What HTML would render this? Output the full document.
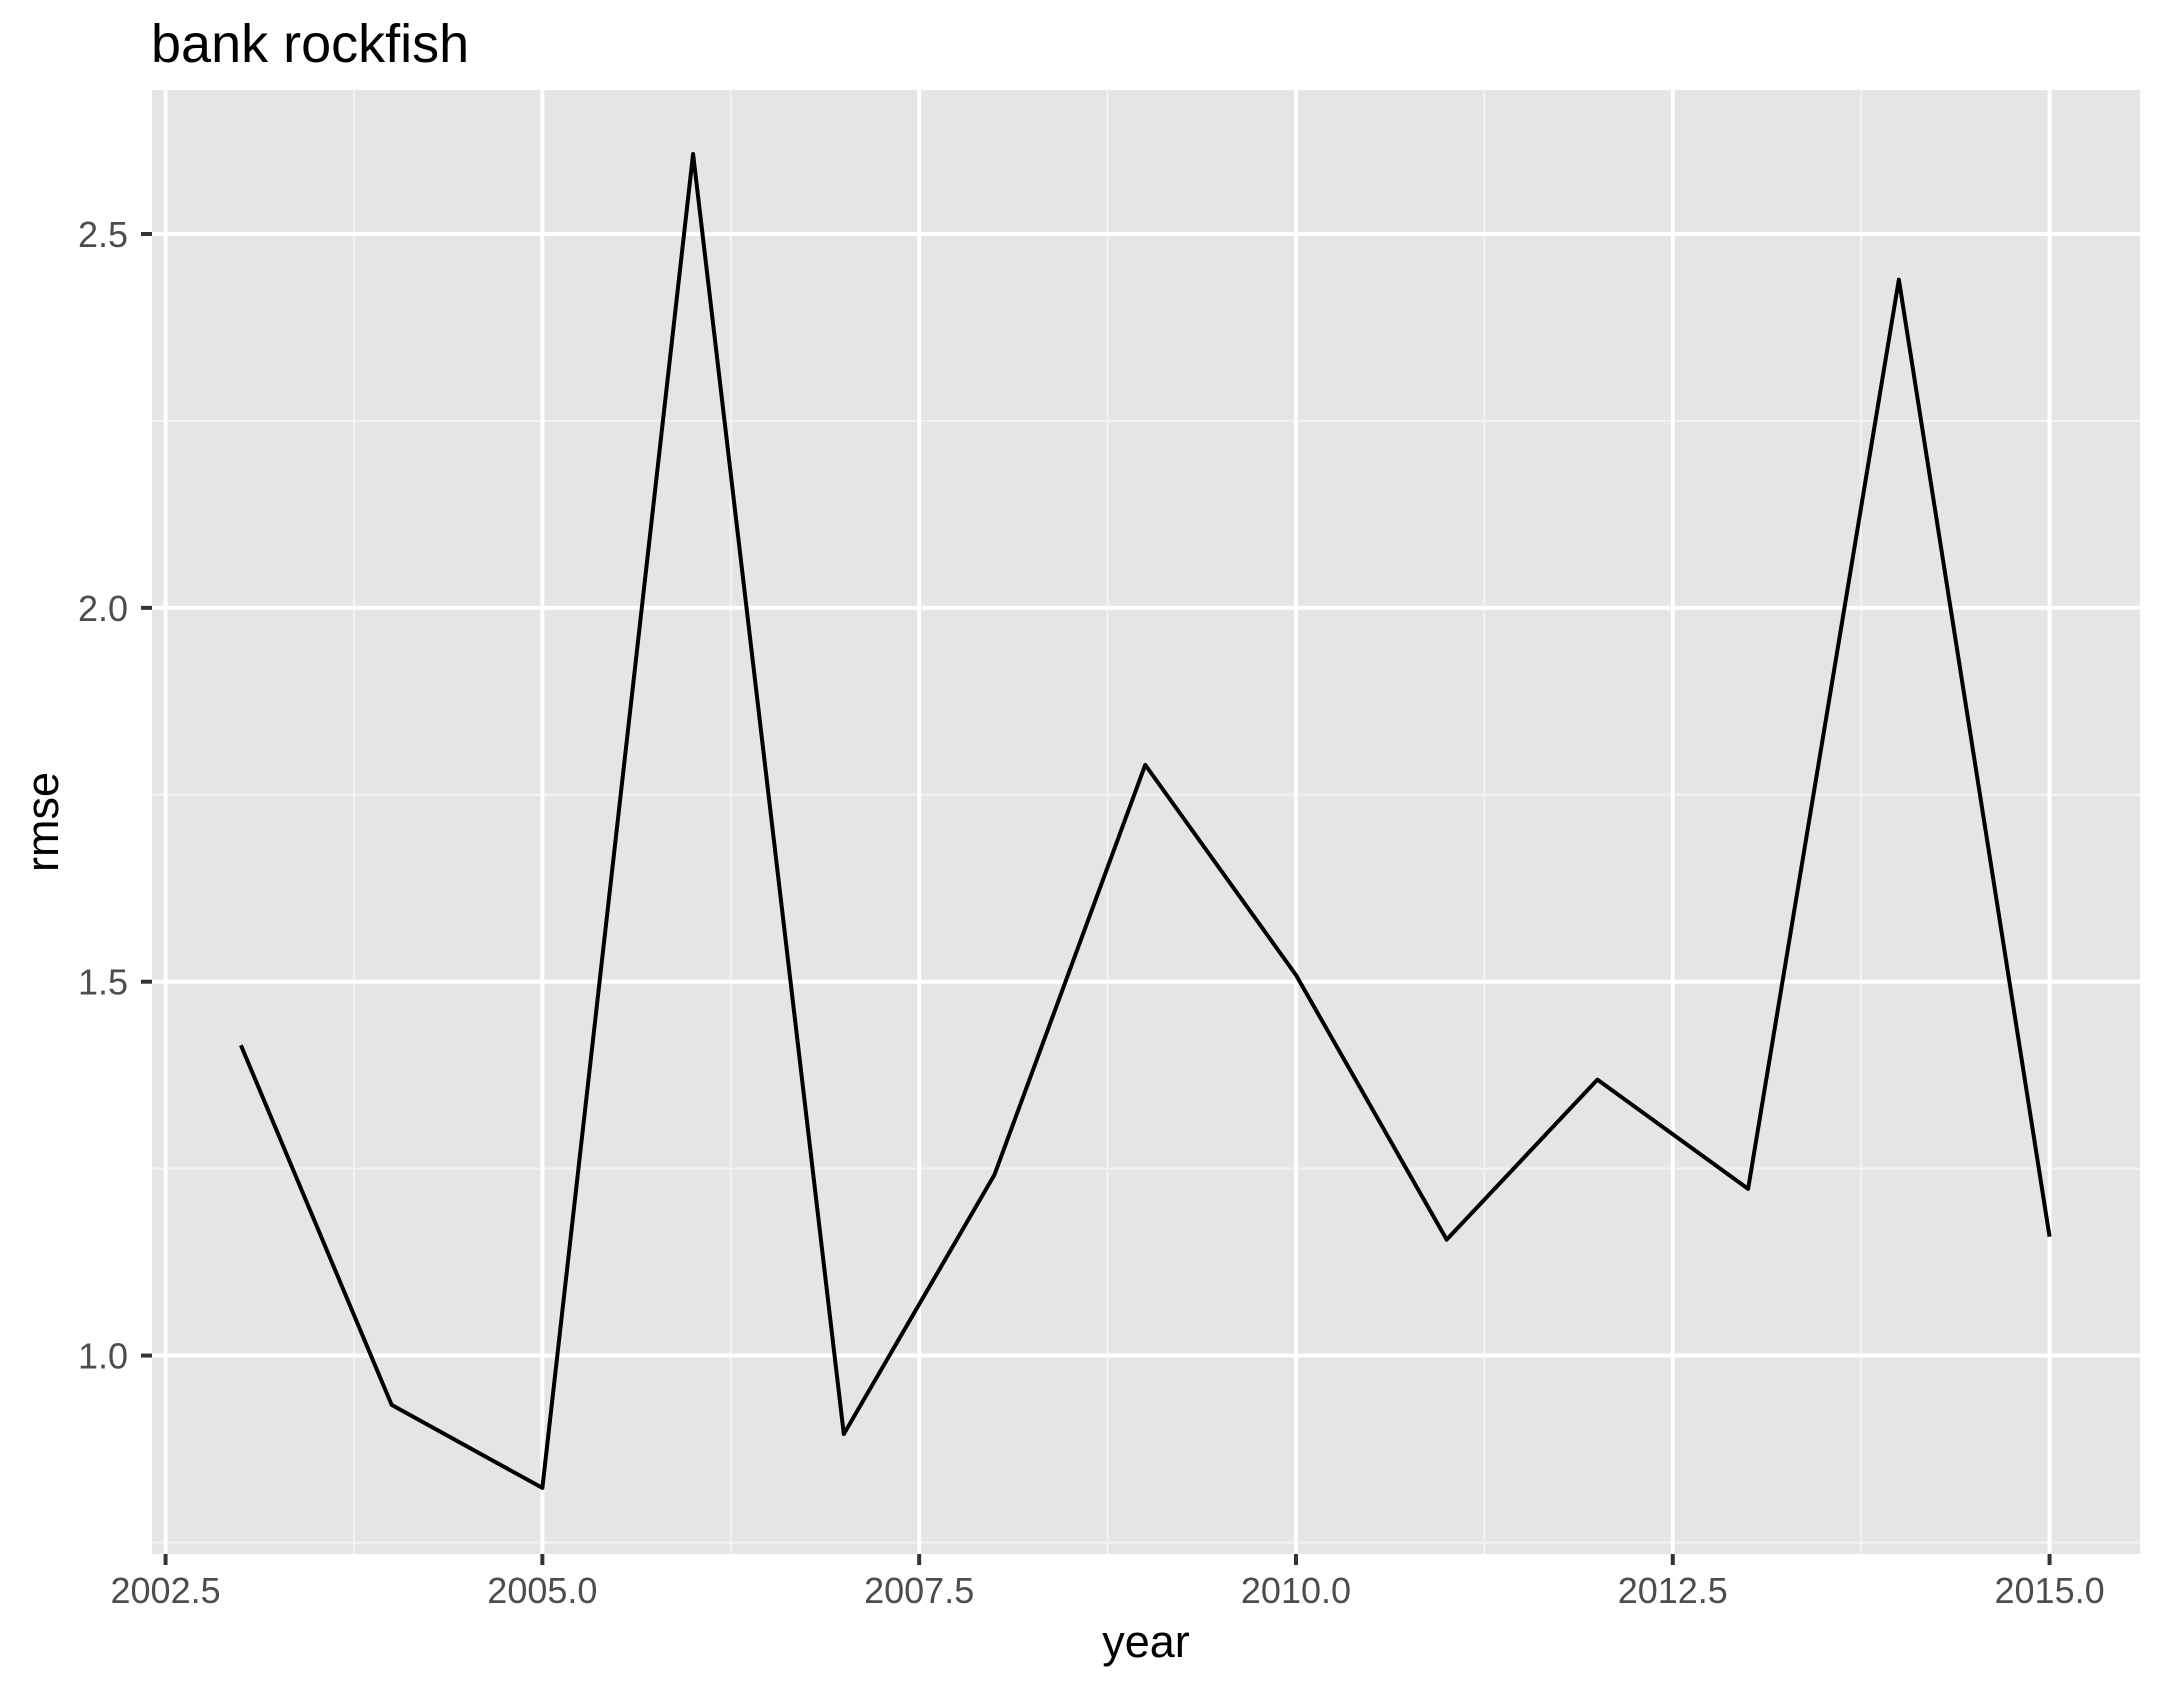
<!DOCTYPE html>
<html><head><meta charset="utf-8"><style>
html,body{margin:0;padding:0;background:#fff}
svg{display:block;font-family:"Liberation Sans",Arial,sans-serif}
</style></head><body>
<svg id="chart" width="2162" height="1691" viewBox="0 0 2162 1691">
<rect x="0" y="0" width="2162" height="1691" fill="#fff"/>
<text x="151" y="62" font-size="54" fill="#000">bank rockfish</text>
<rect x="152" y="90" width="1988" height="1464" fill="#e5e5e5"/>
<g id="grid"></g>
<g id="series"></g>
<g id="axes"></g>
<text x="1146" y="1657" font-size="45" text-anchor="middle" fill="#000">year</text>
<text transform="translate(58,822) rotate(-90)" font-size="45" text-anchor="middle" fill="#000">rmse</text>
</svg>
<script>
const years = [2003,2004,2005,2006,2007,2008,2009,2010,2011,2012,2013,2014,2015];
const rmse = [1.415,0.934,0.823,2.607,0.895,1.242,1.790,1.509,1.155,1.369,1.223,2.439,1.159];
const xTicks = [2002.5,2005,2007.5,2010,2012.5,2015];
const xTickLabels = ["2002.5","2005.0","2007.5","2010.0","2012.5","2015.0"];
const xMinor = [2003.75,2006.25,2008.75,2011.25,2013.75];
const yTicks = [1.0,1.5,2.0,2.5];
const yTickLabels = ["1.0","1.5","2.0","2.5"];
const yMinor = [0.75,1.25,1.75,2.25];

const L=152,R=2140,T=90,B=1554;
const xMin=2002.41,xMax=2015.6,yMin=0.7346,yMax=2.6926;
const sx=v=>L+(v-xMin)/(xMax-xMin)*(R-L);
const sy=v=>B-(v-yMin)/(yMax-yMin)*(B-T);
const NS="http://www.w3.org/2000/svg";
function mk(tag,attrs,parent){const e=document.createElementNS(NS,tag);for(const k in attrs)e.setAttribute(k,attrs[k]);parent.appendChild(e);return e;}
const grid=document.getElementById('grid'),axes=document.getElementById('axes'),series=document.getElementById('series');

xMinor.forEach(v=>{const e=mk('line',{x1:sx(v),x2:sx(v),y1:T,y2:B,stroke:'#f2f2f2','stroke-width':2.2},grid);

});
yMinor.forEach(v=>{const e=mk('line',{x1:L,x2:R,y1:sy(v),y2:sy(v),stroke:'#f2f2f2','stroke-width':2.2},grid);

});
xTicks.forEach((v,i)=>{
const g=mk('line',{x1:sx(v),x2:sx(v),y1:T,y2:B,stroke:'#fff','stroke-width':4},grid);


const t=mk('line',{x1:sx(v),x2:sx(v),y1:B,y2:B+11,stroke:'#333','stroke-width':4},axes);


const lb=mk('text',{x:sx(v),y:1603,'font-size':36,'text-anchor':'middle',fill:'#4d4d4d'},axes);
lb.textContent=xTickLabels[i];


});
yTicks.forEach((v,i)=>{
const g=mk('line',{x1:L,x2:R,y1:sy(v),y2:sy(v),stroke:'#fff','stroke-width':4},grid);


const t=mk('line',{x1:L-11,x2:L,y1:sy(v),y2:sy(v),stroke:'#333','stroke-width':4},axes);


const lb=mk('text',{x:128,y:sy(v)+13,'font-size':36,'text-anchor':'end',fill:'#4d4d4d'},axes);
lb.textContent=yTickLabels[i];


});
const pts=years.map((y,i)=>sx(y)+','+sy(rmse[i])).join(' ');
const line=mk('polyline',{points:pts,fill:'none',stroke:'#000','stroke-width':4,'stroke-linejoin':'round'},series);


</script>
</body></html>
